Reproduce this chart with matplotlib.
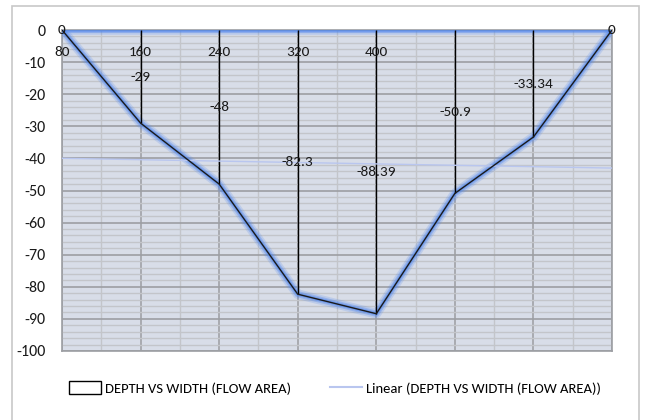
import numpy as np
import matplotlib
matplotlib.use("Agg")
import matplotlib.pyplot as plt
from matplotlib.patches import Patch, Rectangle
from matplotlib.lines import Line2D
from matplotlib.ticker import MultipleLocator

plt.rcParams["font.family"] = ["Carlito", "DejaVu Sans"]

# channel cross-section: width stations and bed depth
widths = [80, 160, 240, 320, 400, 480, 560, 640]
depths = [0, -29, -48, -82.3, -88.39, -50.9, -33.34, 0]
depth_labels = ["0", "-29", "-48", "-82.3", "-88.39", "-50.9", "-33.34", "0"]
width_labels = ["80", "160", "240", "320", "400", "", "", ""]

series_name = "DEPTH VS WIDTH (FLOW AREA)"
text_color = "#1a1a1a"

fig = plt.figure(figsize=(6.45, 4.2), dpi=100)
ax = fig.add_axes([62 / 645, 1 - 351 / 420, (612 - 62) / 645, (351 - 30) / 420])

x = np.array(widths, dtype=float)
y = np.array(depths, dtype=float)

ax.set_facecolor("#d8dde8")
ax.set_xlim(x[0], x[-1])
ax.set_ylim(-100, 0)

# grid
ax.yaxis.set_major_locator(MultipleLocator(10))
ax.yaxis.set_minor_locator(MultipleLocator(2))
ax.set_xticks(x)
ax.set_xticks((x[:-1] + x[1:]) / 2, minor=True)
ax.grid(which="minor", axis="y", color="#c3c5ca", lw=1.0)
ax.grid(which="major", axis="y", color="#9c9ea3", lw=1.2)
ax.grid(which="minor", axis="x", color="#c3c5ca", lw=1.0)
ax.grid(which="major", axis="x", color="#a0a2a6", lw=1.2)
ax.set_axisbelow(True)

# soft blue glow on the area outline
for lw, a in [(7, 0.2), (4.5, 0.35), (2.5, 0.5)]:
    ax.plot(x, y, color="#4f86ee", lw=lw, alpha=a, solid_capstyle="round", zorder=3)
    ax.plot([x[0], x[-1]], [0, 0], color="#4f86ee", lw=lw, alpha=a, zorder=3)

# drop lines and outline
ax.vlines(x[1:-1], y[1:-1], 0, color="black", lw=1.0, zorder=4)
ax.plot(x, y, color="#1a1a1a", lw=1.0, zorder=5)

# linear trend line
idx = np.arange(1, len(y) + 1)
coef = np.polyfit(idx, y, 1)
ax.plot(x, np.polyval(coef, idx), color="#b9c6ef", lw=1.0, zorder=4)

# data labels at mid-depth
for xi, yi, lab in zip(x, y, depth_labels):
    ax.text(xi, yi / 2, lab, ha="center", va="center", fontsize=11,
            color=text_color, zorder=6, clip_on=False)

# category labels just under the zero line
for xi, lab in zip(x, width_labels):
    ax.annotate(lab, (xi, 0), xytext=(0, -16), textcoords="offset points",
                ha="center", va="center", fontsize=11, color=text_color,
                zorder=6, annotation_clip=False)

ax.tick_params(axis="x", which="both", length=0, labelbottom=False)
ax.set_yticklabels([str(int(v)) for v in ax.get_yticks()])
ax.tick_params(axis="y", which="both", length=0, pad=12, labelsize=11.5,
               labelcolor=text_color)
for s in ax.spines.values():
    s.set_color("#9c9ea3")
    s.set_linewidth(1.2)

# legend
handles = [
    Patch(facecolor="white", edgecolor="black", lw=1.0),
    Line2D([], [], color="#b9c6ef", lw=1.5),
]
fig.legend(handles, [series_name, "Linear (" + series_name + ")"],
           loc="center", bbox_to_anchor=(335 / 645, 1 - 388 / 420), ncol=2,
           frameon=False, fontsize=10.5, handlelength=2.2, handleheight=0.9,
           columnspacing=2.6, handletextpad=0.3)

# chart border
fig.patches.append(Rectangle((12 / 645, -0.05), (639 - 12) / 645, 1 - 6 / 420 + 0.05,
                             transform=fig.transFigure, fill=False,
                             edgecolor="#c8c8c8", lw=1.2))

fig.savefig("out.png", dpi=100)
